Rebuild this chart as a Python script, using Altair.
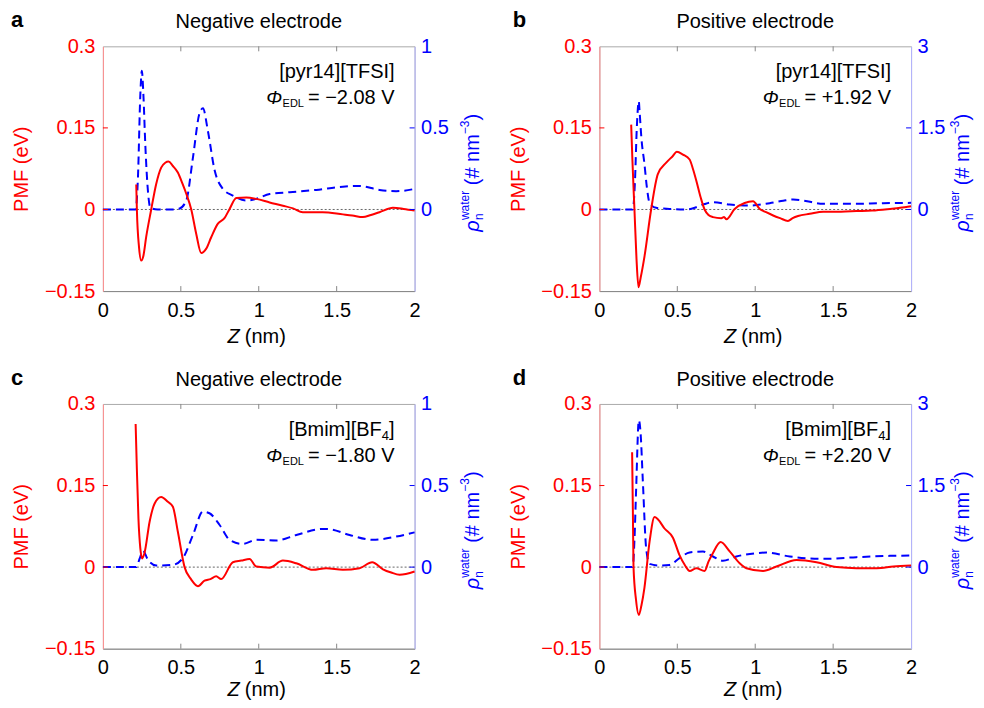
import altair as alt
import pandas as pd

FONT = "Liberation Sans"
W, H = 312, 245
RED = "#ff0000"
BLUE = "#0000ff"

# ---------------- data ----------------
pmf_a_z = [0.214, 0.218, 0.232, 0.246, 0.26, 0.278, 0.31, 0.342, 0.374, 0.40, 0.421, 0.449, 0.481, 0.51, 0.535, 0.567, 0.599, 0.631, 0.663, 0.695, 0.738, 0.78, 0.813, 0.856, 0.92, 0.984, 1.07, 1.155, 1.22, 1.283, 1.41, 1.54, 1.60, 1.668, 1.72, 1.775, 1.861, 1.93, 2.0]
pmf_a_v = [0.046, 0.0, -0.07, -0.094, -0.085, -0.05, 0.0, 0.047, 0.077, 0.086, 0.088, 0.080, 0.068, 0.048, 0.029, 0.0, -0.045, -0.080, -0.072, -0.051, -0.026, -0.016, 0.001, 0.021, 0.022, 0.0195, 0.013, 0.007, 0.002, -0.005, -0.005, -0.009, -0.011, -0.014, -0.01, -0.005, 0.003, 0.001, -0.002]
rho_a_z = [0.0, 0.21, 0.225, 0.24, 0.25, 0.26, 0.272, 0.29, 0.305, 0.35, 0.45, 0.49, 0.535, 0.578, 0.62, 0.642, 0.674, 0.717, 0.77, 0.834, 0.92, 0.984, 1.07, 1.198, 1.369, 1.54, 1.647, 1.775, 1.882, 2.0]
rho_a_v = [0.0, 0.0, 0.2, 0.7, 0.85, 0.7, 0.4, 0.1, 0.01, 0.0, 0.0, 0.005, 0.055, 0.32, 0.59, 0.62, 0.48, 0.24, 0.126, 0.085, 0.055, 0.065, 0.095, 0.106, 0.12, 0.14, 0.144, 0.12, 0.112, 0.126]

pmf_b_z = [0.204, 0.212, 0.225, 0.238, 0.251, 0.265, 0.289, 0.332, 0.375, 0.429, 0.47, 0.497, 0.536, 0.579, 0.60, 0.622, 0.65, 0.675, 0.70, 0.729, 0.782, 0.80, 0.815, 0.868, 0.932, 0.986, 1.029, 1.07, 1.115, 1.16, 1.21, 1.24, 1.275, 1.35, 1.436, 1.55, 1.65, 1.75, 1.865, 1.93, 2.0]
pmf_b_v = [0.156, 0.09, 0.0, -0.09, -0.143, -0.125, -0.087, 0.0, 0.065, 0.086, 0.098, 0.106, 0.101, 0.092, 0.075, 0.053, 0.022, 0.0, -0.01, -0.014, -0.016, -0.014, -0.018, 0.001, 0.012, 0.015, 0.001, -0.005, -0.011, -0.016, -0.021, -0.016, -0.012, -0.008, -0.004, -0.004, -0.003, -0.002, 0.001, 0.003, 0.006]
rho_b_z = [0.0, 0.214, 0.228, 0.24, 0.253, 0.257, 0.27, 0.289, 0.305, 0.322, 0.364, 0.45, 0.557, 0.62, 0.675, 0.729, 0.836, 0.965, 1.093, 1.18, 1.243, 1.308, 1.436, 1.608, 1.822, 2.0]
rho_b_v = [0.0, 0.0, 0.5, 1.5, 1.99, 1.84, 1.3, 0.84, 0.4, 0.12, 0.03, 0.01, 0.0, 0.04, 0.10, 0.134, 0.09, 0.073, 0.116, 0.16, 0.183, 0.165, 0.104, 0.104, 0.116, 0.122]

pmf_c_z = [0.21, 0.218, 0.228, 0.24, 0.252, 0.267, 0.3, 0.332, 0.374, 0.417, 0.449, 0.481, 0.524, 0.567, 0.61, 0.652, 0.69, 0.727, 0.759, 0.834, 0.888, 0.941, 0.984, 1.07, 1.155, 1.241, 1.348, 1.433, 1.54, 1.647, 1.728, 1.797, 1.85, 1.904, 2.0]
pmf_c_v = [0.263, 0.18, 0.09, 0.035, 0.016, 0.026, 0.084, 0.117, 0.129, 0.12, 0.111, 0.065, 0.0, -0.023, -0.035, -0.025, -0.022, -0.017, -0.022, 0.009, 0.012, 0.015, 0.001, -0.001, 0.012, 0.007, -0.005, -0.002, -0.005, -0.002, 0.009, -0.004, -0.01, -0.014, -0.008]
rho_c_z = [0.0, 0.214, 0.235, 0.257, 0.289, 0.342, 0.449, 0.513, 0.578, 0.642, 0.684, 0.749, 0.813, 0.898, 0.984, 1.112, 1.241, 1.412, 1.455, 1.583, 1.733, 1.882, 2.0]
rho_c_v = [0.0, 0.0, 0.05, 0.10, 0.045, 0.01, 0.014, 0.055, 0.197, 0.34, 0.33, 0.258, 0.167, 0.142, 0.167, 0.163, 0.197, 0.234, 0.232, 0.197, 0.167, 0.187, 0.213]

pmf_d_z = [0.21, 0.215, 0.219, 0.235, 0.253, 0.27, 0.289, 0.322, 0.354, 0.375, 0.418, 0.472, 0.514, 0.55, 0.579, 0.622, 0.675, 0.70, 0.729, 0.778, 0.836, 0.9, 0.943, 1.05, 1.136, 1.265, 1.393, 1.522, 1.65, 1.78, 1.886, 2.0]
pmf_d_v = [0.211, 0.1, 0.0, -0.06, -0.088, -0.07, -0.038, 0.047, 0.092, 0.088, 0.071, 0.054, 0.022, 0.003, -0.007, -0.002, -0.007, 0.01, 0.026, 0.046, 0.029, 0.007, -0.002, -0.007, 0.001, 0.013, 0.009, 0.0, -0.002, -0.002, 0.001, 0.003]
rho_d_z = [0.0, 0.214, 0.225, 0.236, 0.253, 0.264, 0.279, 0.3, 0.322, 0.386, 0.45, 0.514, 0.579, 0.665, 0.729, 0.793, 0.879, 1.008, 1.072, 1.222, 1.436, 1.65, 1.865, 2.0]
rho_d_v = [0.0, 0.0, 0.5, 1.45, 2.70, 2.48, 1.57, 0.35, 0.06, 0.03, 0.04, 0.165, 0.27, 0.287, 0.195, 0.116, 0.195, 0.256, 0.268, 0.195, 0.152, 0.183, 0.207, 0.213]

x_ticks = [0, 0.5, 1, 1.5, 2]
pmf_ticks = [-0.15, 0, 0.15, 0.3]
pmf_domain = [-0.15, 0.3]
rho_ticks_small = [0, 0.5, 1]
rho_ticks_large = [0, 1.5, 3]

letters = ["a", "b", "c", "d"]
titles = ["Negative electrode", "Positive electrode", "Negative electrode", "Positive electrode"]
ions = [("[pyr14][TFSI]", None), ("[pyr14][TFSI]", None), ("[Bmim][BF", "4"), ("[Bmim][BF", "4")]
phis = ["= \u22122.08 V", "= +1.92 V", "= \u22121.80 V", "= +2.20 V"]

# approximate Arial/Liberation Sans advance widths (em units) for layout
ADV = {" ": .278, "=": .584, "\u2212": .584, "+": .584, ".": .278, "V": .667,
       "E": .667, "D": .722, "L": .556, "[": .278, "]": .278, "(": .333, ")": .333,
       "#": .556, "n": .556, "m": .833, "w": .722, "a": .556, "t": .278, "e": .556,
       "r": .333, "\u03c1": .578, "\u03a6": .762}


def tw(s, size):
    return sum(ADV.get(ch, .556) for ch in s) * size


SUB = 12


def txt(s, x, y, size=20, color="black", style="normal", weight="normal",
        align="left", baseline="middle", angle=0):
    kw = dict(font=FONT, fontSize=size, color=color, fontStyle=style,
              fontWeight=weight, align=align, baseline=baseline)
    if angle:
        kw["angle"] = angle
    return alt.Chart(pd.DataFrame({"s": [s]})).mark_text(**kw).encode(
        text="s:N", x=alt.value(x), y=alt.value(y))


def panel(i, pz, pv, rz, rv, rho_ticks, rcol):
    xs = alt.Scale(domain=[0, 2], nice=False, zero=False)
    ls = alt.Scale(domain=pmf_domain, nice=False, zero=False)
    rmax = rho_ticks[-1]
    rs = alt.Scale(domain=[-rmax / 2, rmax], nice=False, zero=False)
    xaxis = alt.Axis(values=x_ticks, format=".1~f", labelFontSize=20, labelFont=FONT,
                     labelColor="black", domainColor="#888888", ticks=False,
                     labelFlush=False, labelPadding=9, grid=False, title=None)

    pmf = pd.DataFrame({"z": pz, "pmf": pv})
    rho = pd.DataFrame({"z": rz, "rho": rv})

    zero = alt.Chart(pd.DataFrame({"y": [0]})).mark_rule(
        color="#666666", strokeDash=[2, 2], strokeWidth=1).encode(
        y=alt.Y("y:Q", scale=ls, axis=None))

    blue = alt.Chart(rho).mark_line(color=BLUE, strokeWidth=2, strokeDash=[8, 5],
                                    interpolate="monotone").encode(
        x=alt.X("z:Q", scale=xs, axis=xaxis),
        y=alt.Y("rho:Q", scale=rs, axis=alt.Axis(
            orient="right", values=rho_ticks, format=".1~f", labelColor=BLUE,
            labelFontSize=20, labelFont=FONT, domainColor="#b4b4ff", ticks=False,
            labelFlush=False, labelPadding=6, grid=False, title=None)))

    red = alt.Chart(pmf).mark_line(color=RED, strokeWidth=2, interpolate="monotone").encode(
        x=alt.X("z:Q", scale=xs, axis=xaxis),
        y=alt.Y("pmf:Q", scale=ls, axis=alt.Axis(
            orient="left", values=pmf_ticks, format=".2~f", labelColor=RED,
            labelFontSize=20, labelFont=FONT, domainColor="#ff9090", ticks=False,
            labelFlush=False, labelPadding=8, grid=False,
            title="PMF (eV)", titleColor=RED, titleFontSize=20, titleFont=FONT,
            titleFontWeight="normal", titleX=-81, titleY=H / 2, titleAngle=270,
            titleAlign="center", titleBaseline="middle")))

    inner = pd.DataFrame({"t": x_ticks[1:-1]})
    xt_bot = alt.Chart(inner).mark_rule(color="#888888").encode(
        x=alt.X("t:Q", scale=xs, axis=xaxis), y=alt.value(H), y2=alt.value(H - 5))
    xt_top = alt.Chart(inner).mark_rule(color="#888888").encode(
        x=alt.X("t:Q", scale=xs, axis=xaxis), y=alt.value(0), y2=alt.value(5))
    lt = alt.Chart(pd.DataFrame({"t": pmf_ticks[1:-1]})).mark_rule(color=RED).encode(
        y=alt.Y("t:Q", scale=ls, axis=None), x=alt.value(0), x2=alt.value(5))
    rt = alt.Chart(pd.DataFrame({"t": rho_ticks[:-1]})).mark_rule(color=BLUE).encode(
        y=alt.Y("t:Q", scale=rs, axis=None), x=alt.value(W - 5), x2=alt.value(W))

    zy = H + 46 if i < 2 else H + 41
    texts = [
        txt(titles[i], W / 2, -24, align="center"),
        txt(letters[i], -86 if i % 2 == 0 else -80, -26, size=22, weight="bold", align="center"),
        txt("Z", W / 2 - 19, zy, style="italic", align="right"),
        txt("(nm)", W / 2 - 14, zy),
    ]
    right = W - 20
    ion, sub = ions[i]
    if sub is None:
        texts.append(txt(ion, right, 26, align="right"))
    else:
        texts.append(txt("]", right, 26, align="right"))
        r2 = right - tw("]", 20)
        texts.append(txt(sub, r2, 32, size=13, align="right"))
        texts.append(txt(ion, r2 - tw(sub, 13), 26, align="right"))
    # Phi_EDL line, right aligned
    texts.append(txt(phis[i], right, 52, align="right"))
    r3 = right - tw(phis[i], 20) - 4
    texts.append(txt("EDL", r3, 58, size=11, align="right"))
    r4 = r3 - tw("EDL", 11) - 0.5
    texts.append(txt("\u03a6", r4, 52, size=19, style="italic", align="right"))

    # right axis title, rotated, built from the bottom upward
    xb = W + rcol
    y0 = H / 2 + 63
    y1 = y0 - tw("\u03c1", 20)
    y2 = y1 - tw("water", SUB) - tw(" ", 20)
    y3 = y2 - tw("(# nm", 20)
    y4 = y3 - tw("\u22123", SUB)
    texts += [
        txt("\u03c1", xb, y0, style="italic", color=BLUE, angle=270),
        txt("n", xb + 6, y1, size=SUB, color=BLUE, angle=270),
        txt("water", xb - 8, y1, size=SUB, color=BLUE, angle=270),
        txt("(# nm", xb, y2, color=BLUE, angle=270),
        txt("\u22123", xb - 8, y3, size=SUB, color=BLUE, angle=270),
        txt(")", xb, y4, color=BLUE, angle=270),
    ]

    return alt.layer(zero, blue, red, xt_bot, xt_top, lt, rt, *texts).resolve_scale(
        y="independent").properties(width=W, height=H)


pa = panel(0, pmf_a_z, pmf_a_v, rho_a_z, rho_a_v, rho_ticks_small, 58)
pb = panel(1, pmf_b_z, pmf_b_v, rho_b_z, rho_b_v, rho_ticks_large, 52)
pc = panel(2, pmf_c_z, pmf_c_v, rho_c_z, rho_c_v, rho_ticks_small, 58)
pd_ = panel(3, pmf_d_z, pmf_d_v, rho_d_z, rho_d_v, rho_ticks_large, 52)

chart = alt.concat(pa, pb, pc, pd_, columns=2,
                   spacing={"row": 113, "column": 185}, bounds="flush").configure_view(
    stroke="#aaaaaa", strokeWidth=1).properties(
    background="white", padding={"left": 2, "top": 0, "right": 0, "bottom": 0})

chart.save("out.html", embed_options={"renderer": "svg", "actions": False})
